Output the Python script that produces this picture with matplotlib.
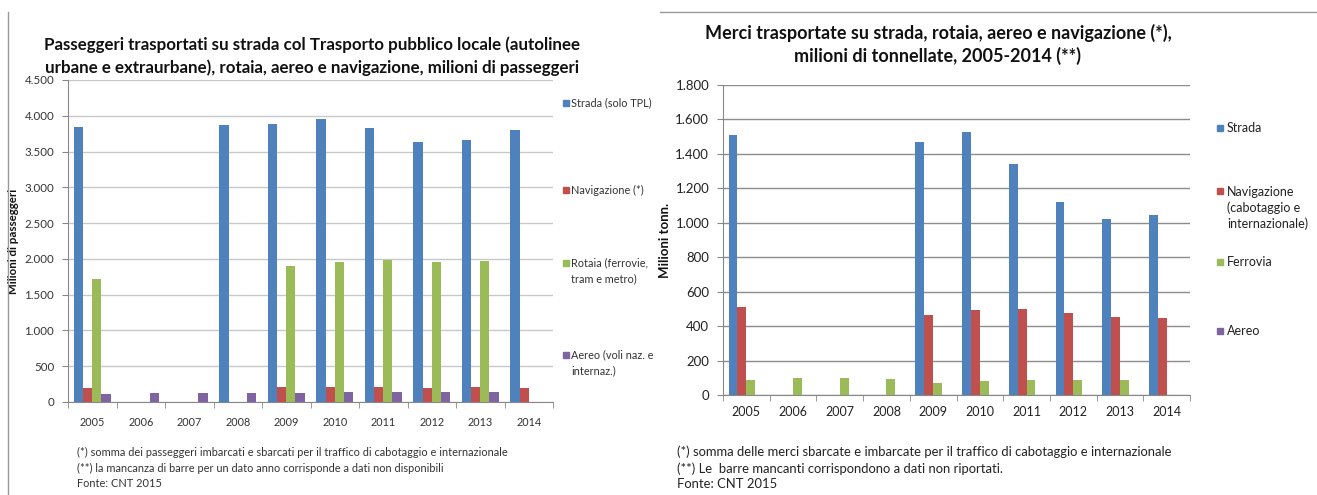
import numpy as np
import matplotlib
matplotlib.use("Agg")
from matplotlib import pyplot as plt
from matplotlib.ticker import FuncFormatter, FixedLocator
from matplotlib.lines import Line2D

plt.rcParams['font.family'] = ['Lato', 'DejaVu Sans']

years = [2005, 2006, 2007, 2008, 2009, 2010, 2011, 2012, 2013, 2014]

# passeggeri (milioni), NaN = dato non disponibile
pax_strada = [3840, np.nan, np.nan, 3870, 3890, 3950, 3830, 3630, 3660, 3800]
pax_navig = [190, np.nan, np.nan, np.nan, 210, 210, 210, 195, 210, 200]
pax_rotaia = [1720, np.nan, np.nan, np.nan, 1900, 1960, 1990, 1950, 1970, np.nan]
pax_aereo = [110, 120, 130, 130, 130, 140, 140, 140, 140, np.nan]

# merci (milioni di tonnellate)
merci_strada = [1510, np.nan, np.nan, np.nan, 1470, 1530, 1340, 1120, 1020, 1045]
merci_navig = [510, np.nan, np.nan, np.nan, 465, 495, 500, 475, 455, 450]
merci_ferrovia = [88, 97, 101, 91, 72, 81, 87, 87, 87, np.nan]
merci_aereo = [1, 1, 1, 1, 1, 1, 1, 1, 1, np.nan]

pax_labels = ["Strada (solo TPL)", "Navigazione (*)", "Rotaia (ferrovie,\ntram e metro)",
              "Aereo (voli naz. e\ninternaz.)"]
merci_labels = ["Strada", "Navigazione\n(cabotaggio e\ninternazionale)", "Ferrovia", "Aereo"]

colors = ["#4F81BD", "#C0504D", "#9BBB59", "#8064A2"]

W, H = 1317, 495
fig = plt.figure(figsize=(W / 100, H / 100), dpi=100)


def px(x, y):
    return x / W, 1 - y / H


def it_fmt(v, pos):
    return "{:,.0f}".format(v).replace(",", ".")


def bar_panel(rect, series, ymax, ystep, ylabel, tick_fs, ylab_fs, xpad, ylabpad, grid_col, lab_col):
    ax = fig.add_axes(rect)
    x = np.arange(len(years))
    bw = 0.19
    for i, (vals, c) in enumerate(zip(series, colors)):
        ax.bar(x + (i - 1.5) * bw, vals, bw, color=c, zorder=3)
    ax.set_xlim(-0.5, len(years) - 0.5)
    ax.set_ylim(0, ymax)
    ax.set_yticks(np.arange(0, ymax + 1, ystep))
    ax.yaxis.set_major_formatter(FuncFormatter(it_fmt))
    ax.grid(axis='y', color=grid_col, lw=1, zorder=0)
    ax.set_xticks(x)
    ax.set_xticklabels(years)
    ax.xaxis.set_minor_locator(FixedLocator(np.arange(-0.5, len(years), 1)))
    ax.tick_params(axis='x', which='major', length=0, pad=xpad, labelsize=tick_fs, colors=lab_col)
    ax.tick_params(axis='x', which='minor', length=4, color="#888888")
    ax.tick_params(axis='y', length=4, color="#888888", labelsize=tick_fs + 0.5, labelcolor=lab_col, pad=6)
    for s in ["top", "right"]:
        ax.spines[s].set_visible(False)
    ax.spines["left"].set_color("#888888")
    ax.spines["bottom"].set_color("#888888")
    ax.set_ylabel(ylabel, fontsize=ylab_fs, fontweight='bold', labelpad=ylabpad, color="#111111")
    return ax


# ---- pannello sinistro: passeggeri
axL = bar_panel([68 / W, 1 - 402 / H, 485 / W, 322 / H],
                [pax_strada, pax_navig, pax_rotaia, pax_aereo],
                4500, 500, "Milioni di passeggeri", 7.8, 8.3, 11, 4, "#c8c8c8", "#333333")
fig.text(*px(312, 56), "Passeggeri trasportati su strada col Trasporto pubblico locale (autolinee\n"
         "urbane e extraurbane), rotaia, aereo e navigazione, milioni di passeggeri",
         ha='center', va='center', fontsize=12.2, fontweight='bold', linespacing=1.5, color="#111111")

leg_y_left = [103, 190, 271, 363]
for lab, c, y in zip(pax_labels, colors, leg_y_left):
    first = y - (lab.count("\n")) * 8
    fig.add_artist(Line2D([566 / W], [1 - first / H], marker='s', ms=4, color=c, lw=0))
    fig.text(*px(571, y), lab, ha='left', va='center', fontsize=7.8, color="#333333", linespacing=1.5)

fig.text(*px(77, 468), "(*) somma dei passeggeri imbarcati e sbarcati per il traffico di cabotaggio e internazionale\n"
         "(**) la mancanza di barre per un dato anno corrisponde a dati non disponibili\n"
         "Fonte: CNT 2015", ha='left', va='center', fontsize=7.9, color="#333333", linespacing=1.5)

# ---- pannello destro: merci
axR = bar_panel([723 / W, 1 - 395 / H, 467 / W, 310 / H],
                [merci_strada, merci_navig, merci_ferrovia, merci_aereo],
                1800, 200, "Milioni tonn.", 9, 9.5, 8, 3, "#8c8c8c", "#222222")
fig.text(*px(938, 44.5), "Merci trasportate su strada, rotaia, aereo e navigazione (*),\n"
         "milioni di tonnellate, 2005-2014 (**)",
         ha='center', va='center', fontsize=13, fontweight='bold', linespacing=1.35, color="#111111")

leg_y_right = [128, 208, 262, 331]
for lab, c, y in zip(merci_labels, colors, leg_y_right):
    first = y - (lab.count("\n")) * 8.5
    fig.add_artist(Line2D([1220 / W], [1 - first / H], marker='s', ms=5, color=c, lw=0))
    fig.text(*px(1227, y), lab, ha='left', va='center', fontsize=9, color="#222222", linespacing=1.3)

fig.text(*px(677, 468), "(*) somma delle merci sbarcate e imbarcate per il traffico di cabotaggio e internazionale\n"
         "(**) Le  barre mancanti corrispondono a dati non riportati.\n"
         "Fonte: CNT 2015", ha='left', va='center', fontsize=9.4, color="#222222", linespacing=1.35)

# cornici del ritaglio originale
fig.add_artist(Line2D([8 / W, 8 / W], [1 - 12 / H, 0], color="#999999", lw=1))
fig.add_artist(Line2D([660 / W, 1], [1 - 12 / H, 1 - 12 / H], color="#999999", lw=1))

fig.savefig("out.png", dpi=100)
